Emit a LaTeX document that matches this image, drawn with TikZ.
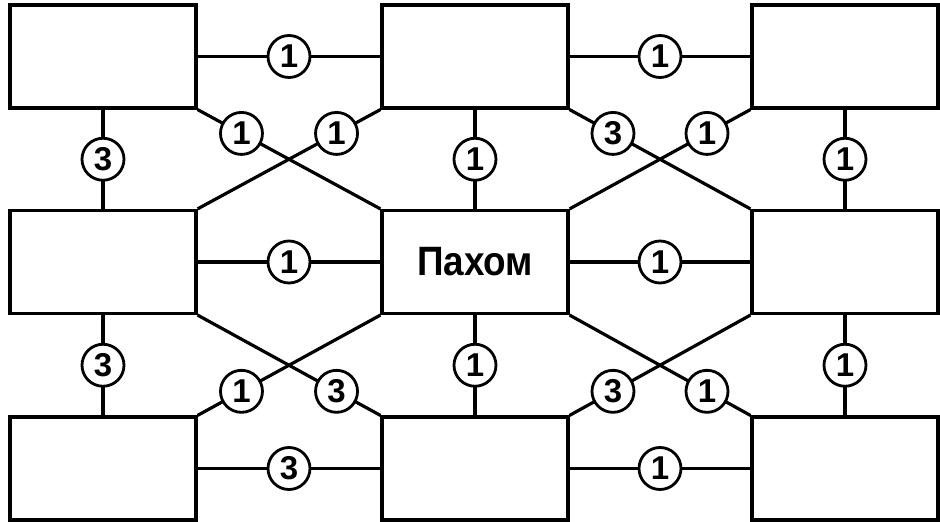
\documentclass[tikz,border=0pt]{standalone}
\usepackage{fontspec}
\setmainfont{Liberation Sans}
\begin{document}
\begin{tikzpicture}[x=1pt,y=1pt,
  box/.style={draw, line width=3.2pt, minimum width=186pt, minimum height=103pt, inner sep=0pt},
  lab/.style={draw, circle, fill=white, line width=2.8pt, minimum size=42pt, inner sep=0pt,
              font=\fontsize{33}{33}\selectfont\bfseries},
  conn/.style={line width=3.2pt}]
\useasboundingbox (0,0) rectangle (940,522);
% boxes
\node[box] (TL) at (103,465.5) {};
\node[box] (TM) at (475,465.5) {};
\node[box] (TR) at (845,465.5) {};
\node[box] (ML) at (103,260) {};
\node[box] (C)  at (475,260) {\scalebox{0.9}[1]{\fontsize{41}{45}\selectfont\bfseries Пахом}};
\node[box] (MR) at (845,260) {};
\node[box] (BL) at (103,53.5) {};
\node[box] (BM) at (475,53.5) {};
\node[box] (BR) at (845,53.5) {};
% horizontal
\draw[conn] (TL) -- node[lab] {1} (TM);
\draw[conn] (TM) -- node[lab] {1} (TR);
\draw[conn] (ML) -- node[lab] {1} (C);
\draw[conn] (C)  -- node[lab] {1} (MR);
\draw[conn] (BL) -- node[lab] {3} (BM);
\draw[conn] (BM) -- node[lab] {1} (BR);
% vertical
\draw[conn] (TL) -- node[lab] {3} (ML);
\draw[conn] (TM) -- node[lab] {1} (C);
\draw[conn] (TR) -- node[lab] {1} (MR);
\draw[conn] (ML) -- node[lab] {3} (BL);
\draw[conn] (C)  -- node[lab] {1} (BM);
\draw[conn] (MR) -- node[lab] {1} (BR);
% diagonals
\draw[conn] (TL.south east) -- (C.north west)  node[lab, pos=0.24] {1};
\draw[conn] (TM.south west) -- (ML.north east) node[lab, pos=0.24] {1};
\draw[conn] (TM.south east) -- (MR.north west) node[lab, pos=0.24] {3};
\draw[conn] (TR.south west) -- (C.north east)  node[lab, pos=0.24] {1};
\draw[conn] (ML.south east) -- (BM.north west) node[lab, pos=0.76] {3};
\draw[conn] (C.south west)  -- (BL.north east) node[lab, pos=0.76] {1};
\draw[conn] (C.south east)  -- (BR.north west) node[lab, pos=0.76] {1};
\draw[conn] (MR.south west) -- (BM.north east) node[lab, pos=0.76] {3};
\end{tikzpicture}
\end{document}
